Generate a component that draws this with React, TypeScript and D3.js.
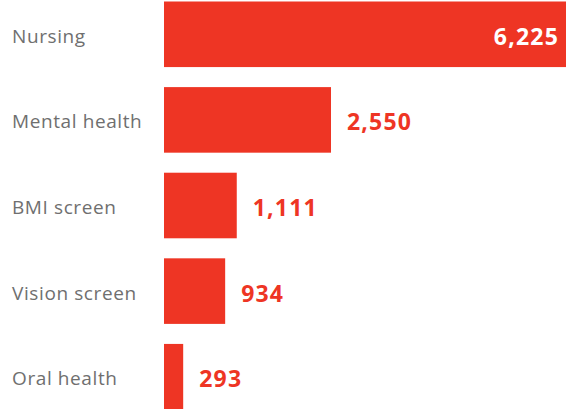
import React from "react";
import * as d3 from "d3";

const categories = ["Nursing", "Mental health", "BMI screen", "Vision screen", "Oral health"];
const values = [6225, 2550, 1111, 934, 293];

const W = 566;
const H = 409;
const RED = "#EE3524";
const GREY = "#6f6f6f";
const FONT = "'Open Sans', sans-serif";

export default function App() {
  const x = d3.scaleLinear().domain([0, 2550]).range([164, 331]);
  const y = d3
    .scaleBand<string>()
    .domain(categories)
    .range([1.5, 409.5])
    .paddingInner(0.234)
    .paddingOuter(0);
  const fmt = d3.format(",");
  return (
    <svg
      width={W}
      height={H}
      style={{ position: "absolute", left: 0, top: 0, display: "block" }}
    >
      {categories.map((c, i) => {
        const y0 = y(c)!;
        const bw = y.bandwidth();
        const cy = y0 + bw / 2 + 1.5;
        const xe = x(values[i]);
        const inside = xe > W;
        return (
          <g key={c}>
            <rect x={x(0)} y={y0} width={Math.min(xe, W) - x(0)} height={bw} fill={RED} />
            <text
              x={12}
              y={cy}
              dominantBaseline="central"
              fontFamily={FONT}
              fontSize={19}
              letterSpacing={0.6}
              fill={GREY}
            >
              {c}
            </text>
            <text
              x={inside ? W - 7 : xe + 16}
              y={cy}
              dominantBaseline="central"
              textAnchor={inside ? "end" : "start"}
              fontFamily={FONT}
              fontWeight={700}
              fontSize={23}
              letterSpacing={1.2}
              fill={inside ? "#ffffff" : RED}
            >
              {fmt(values[i])}
            </text>
          </g>
        );
      })}
    </svg>
  );
}
